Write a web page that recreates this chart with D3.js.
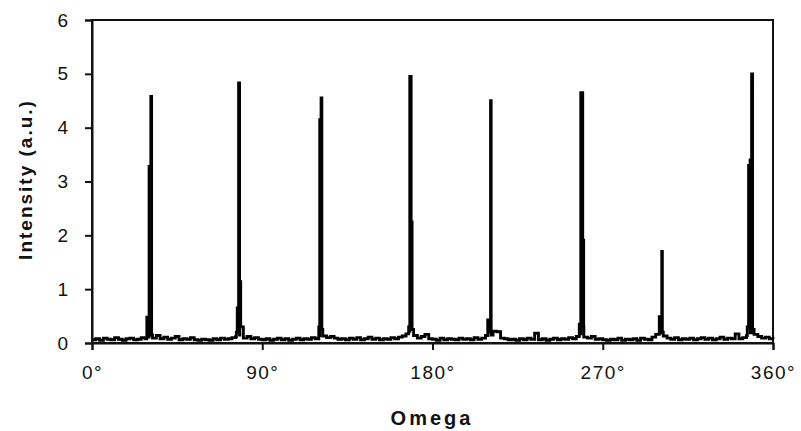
<!DOCTYPE html>
<html>
<head>
<meta charset="utf-8">
<script src="https://cdn.jsdelivr.net/npm/d3@7"></script>
<style>
  body { margin: 0; background: #fff; }
  svg { display: block; }
  text { font-family: "Liberation Sans", Arial, sans-serif; fill: #111; }
</style>
</head>
<body>
<svg id="chart" width="801" height="431"></svg>
<script>
// ---- data ----
const xTickValues = [0, 90, 180, 270, 360];
const xTickLabels = ["0°", "90°", "180°", "270°", "360°"];
const yTickValues = [0, 1, 2, 3, 4, 5, 6];

// baseline scan, one reading every 2° from 0° to 360°
const baseStep = 2;
const baseIntensity = [
  0.06, 0.08, 0.05, 0.09, 0.07, 0.06, 0.10, 0.07, 0.05, 0.08, // 0-18
  0.09, 0.06, 0.07, 0.10, 0.08, 0.11, 0.09, 0.14, 0.08, 0.11, // 20-38
  0.07, 0.09, 0.12, 0.06, 0.08, 0.07, 0.10, 0.06, 0.05, 0.07, // 40-58
  0.06, 0.05, 0.08, 0.06, 0.09, 0.07, 0.08, 0.10, 0.12, 0.15, // 60-78
  0.09, 0.12, 0.08, 0.10, 0.07, 0.06, 0.08, 0.05, 0.07, 0.09, // 80-98
  0.06, 0.08, 0.05, 0.07, 0.09, 0.06, 0.08, 0.07, 0.10, 0.08, // 100-118
  0.14, 0.13, 0.10, 0.12, 0.09, 0.07, 0.08, 0.06, 0.09, 0.07, // 120-138
  0.10, 0.06, 0.08, 0.11, 0.07, 0.09, 0.06, 0.08, 0.07, 0.10, // 140-158
  0.08, 0.11, 0.13, 0.17, 0.19, 0.14, 0.09, 0.12, 0.16, 0.08, // 160-178
  0.07, 0.05, 0.09, 0.06, 0.08, 0.07, 0.06, 0.09, 0.07, 0.08, // 180-198
  0.06, 0.10, 0.07, 0.09, 0.14, 0.26, 0.22, 0.21, 0.09, 0.08, // 200-218
  0.06, 0.07, 0.05, 0.08, 0.06, 0.09, 0.07, 0.18, 0.06, 0.08, // 220-238
  0.05, 0.07, 0.09, 0.06, 0.08, 0.07, 0.10, 0.08, 0.12, 0.17, // 240-258
  0.11, 0.09, 0.12, 0.07, 0.08, 0.06, 0.05, 0.07, 0.06, 0.09, // 260-278
  0.05, 0.07, 0.06, 0.08, 0.05, 0.09, 0.07, 0.06, 0.11, 0.16, // 280-298
  0.19, 0.13, 0.09, 0.07, 0.10, 0.06, 0.08, 0.07, 0.09, 0.06, // 300-318
  0.08, 0.10, 0.07, 0.09, 0.06, 0.08, 0.11, 0.07, 0.09, 0.08, // 320-338
  0.17, 0.08, 0.10, 0.14, 0.19, 0.16, 0.12, 0.09, 0.11, 0.08, // 340-358
  0.07                                                          // 360
];

// diffraction peaks (angle in degrees, intensity)
const peakAngles = [
  29.0, 29.6, 30.2, 31.1, 31.5,
  76.3, 76.8, 77.5, 78.1, 78.6,
  119.9, 120.4, 121.1, 121.5,
  167.4, 168.0, 168.7, 169.2,
  209.2, 210.0, 210.7, 211.0,
  257.6, 258.4, 259.4, 259.9,
  299.9, 300.6, 301.2, 301.5,
  346.4, 347.1, 347.9, 348.7, 349.2
];
const peakIntensity = [
  0.48, 0.12, 3.28, 4.58, 0.15,
  0.20, 0.65, 4.83, 1.14, 0.30,
  0.30, 4.15, 4.55, 0.25,
  0.30, 4.95, 2.25, 0.25,
  0.43, 0.20, 4.50, 0.15,
  0.35, 4.65, 1.91, 0.30,
  0.49, 0.30, 1.70, 0.20,
  0.30, 3.30, 3.40, 5.00, 0.25
];

// ---- chart ----
const W = 801, H = 431;
const margin = { top: 20, right: 28, bottom: 88, left: 92 };
const iw = W - margin.left - margin.right;
const ih = H - margin.top - margin.bottom;

const svg = d3.select("#chart");
const g = svg.append("g").attr("transform", `translate(${margin.left},${margin.top})`);

const x = d3.scaleLinear().domain([0, 360]).range([0, iw]);
const y = d3.scaleLinear().domain([0, 6]).range([ih, 0]);

const points = baseIntensity.map((v, i) => ({ a: i * baseStep, v }))
  .concat(peakAngles.map((a, i) => ({ a, v: peakIntensity[i] })))
  .sort((p, q) => p.a - q.a);

// frame
g.append("rect")
  .attr("x", 0).attr("y", 0).attr("width", iw).attr("height", ih)
  .attr("fill", "none").attr("stroke", "#111").attr("stroke-width", 2);

// data line
const line = d3.line().curve(d3.curveStepAfter).x(d => x(d.a)).y(d => y(d.v));
g.append("path")
  .datum(points)
  .attr("d", line)
  .attr("fill", "none")
  .attr("stroke", "#000")
  .attr("stroke-width", 2.9)
  .attr("stroke-linejoin", "miter");

// axes
const xAxis = d3.axisBottom(x)
  .tickValues(xTickValues)
  .tickFormat((d, i) => xTickLabels[i])
  .tickSize(7).tickPadding(16);
const gx = g.append("g").attr("transform", `translate(0,${ih})`).call(xAxis);
gx.select(".domain").attr("stroke", "#111").attr("stroke-width", 2);
gx.selectAll(".tick line").attr("stroke", "#111").attr("stroke-width", 2);
gx.selectAll(".tick text")
  .attr("font-size", 19).attr("letter-spacing", 1.5).attr("fill", "#1a1a1a")
  .attr("font-family", "Liberation Sans, Arial, sans-serif");

const yAxis = d3.axisLeft(y)
  .tickValues(yTickValues)
  .tickFormat(d3.format("d"))
  .tickSize(7).tickPadding(17);
const gy = g.append("g").call(yAxis);
gy.select(".domain").attr("stroke", "#111").attr("stroke-width", 2);
gy.selectAll(".tick line").attr("stroke", "#111").attr("stroke-width", 2);
gy.selectAll(".tick text")
  .attr("font-size", 19).attr("fill", "#1a1a1a")
  .attr("font-family", "Liberation Sans, Arial, sans-serif");

// axis titles
svg.append("text")
  .attr("x", 432)
  .attr("y", 425)
  .attr("text-anchor", "middle")
  .attr("font-size", 20)
  .attr("font-weight", "bold")
  .attr("letter-spacing", 3)
  .text("Omega");

svg.append("text")
  .attr("transform", `translate(32,${margin.top + ih / 2 - 2}) rotate(-90)`)
  .attr("text-anchor", "middle")
  .attr("font-size", 19)
  .attr("font-weight", "bold")
  .attr("letter-spacing", 2)
  .text("Intensity (a.u.)");
</script>
</body>
</html>
